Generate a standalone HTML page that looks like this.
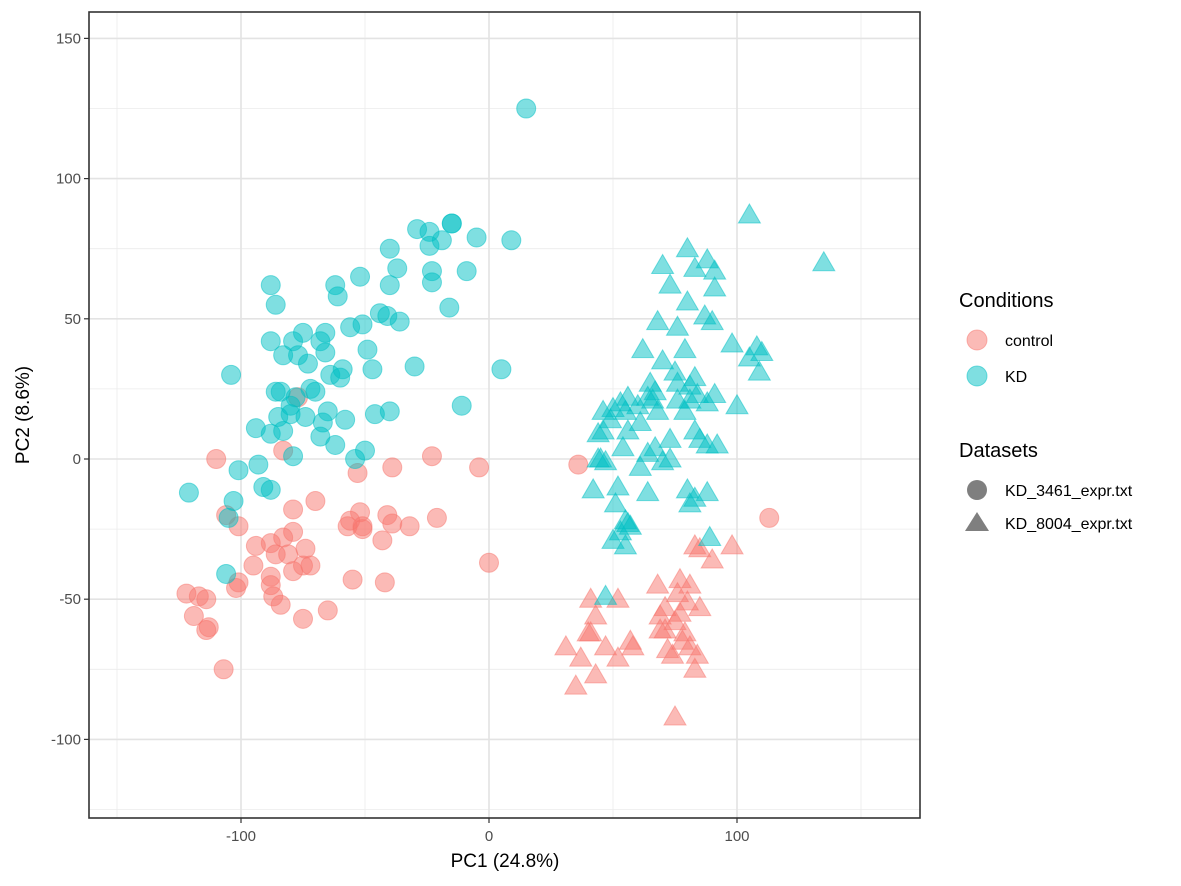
<!DOCTYPE html>
<html><head><meta charset="utf-8">
<style>
body{margin:0;background:#fff;}
svg{display:block;font-family:"Liberation Sans",Arial,sans-serif;}
</style></head>
<body>
<svg id="chart" width="1181" height="886" viewBox="0 0 1181 886" xmlns="http://www.w3.org/2000/svg">
<rect width="1181" height="886" fill="#fff"/>
<g id="grid"></g>
<g id="points"></g>
<rect x="89" y="12" width="831" height="806" fill="none" stroke="#333" stroke-width="1.6"/>
<g id="axes"></g>
<text x="505" y="867" font-size="19" text-anchor="middle" fill="#000">PC1 (24.8%)</text>
<text transform="translate(29,415) rotate(-90)" font-size="19" text-anchor="middle" fill="#000">PC2 (8.6%)</text>
<g>
<text x="959" y="307" font-size="20" fill="#000">Conditions</text>
<circle cx="977" cy="340" r="10" fill="#F8766D" fill-opacity="0.5" stroke="#F8766D" stroke-opacity="0.5"/>
<text x="1005" y="346" font-size="16">control</text>
<circle cx="977" cy="376" r="10" fill="#00BFC4" fill-opacity="0.5" stroke="#00BFC4" stroke-opacity="0.5"/>
<text x="1005" y="382" font-size="16">KD</text>
<text x="959" y="457" font-size="20" fill="#000">Datasets</text>
<circle cx="977" cy="490" r="10" fill="#7f7f7f"/>
<text x="1005" y="496" font-size="16">KD_3461_expr.txt</text>
<polygon points="977,512 989,531 965,531" fill="#7f7f7f"/>
<text x="1005" y="529" font-size="16">KD_8004_expr.txt</text>
</g>
</svg>
<script>
const xTicks=[-100,0,100];
const xMinor=[-150,-50,50,150];
const yTicks=[-100,-50,0,50,100,150];
const yMinor=[-125,-75,-25,25,75,125];
const kdCircX=[15,9,-5,-15,-15,-29,-24,-19,-24,-9,-23,-23,-40,-37,-40,-52,-62,-61,-88,-86,-16,-44,-41,-36,-51,-56,-75,-66,-79,-68,-88,-66,-83,-49,-30,5,-77,-73,-59,-64,-60,-47,-104,-72,-84,-86,-70,-78,-80,-80,-85,-65,-74,-58,-46,-40,-11,-67,-94,-88,-83,-68,-62,-50,-79,-54,-93,-101,-121,-91,-88,-103,-105,-106];
const kdCircY=[125,78,79,84,84,82,81,78,76,67,67,63,75,68,62,65,62,58,62,55,54,52,51,49,48,47,45,45,42,42,42,38,37,39,33,32,37,34,32,30,29,32,30,25,24,24,24,22,19,16,15,17,15,14,16,17,19,13,11,9,10,8,5,3,1,0,-2,-4,-12,-10,-11,-15,-21,-41];
const ctlCircX=[-110,-23,-4,-39,36,-53,-83,-77,-79,-70,-41,-52,-56,-57,-51,-51,-39,-32,-21,-106,-101,-79,-83,-88,-74,-94,-43,-81,-86,-95,-75,-72,-79,-88,-55,-101,-102,-88,-42,0,-87,-84,-122,-117,-114,-65,-75,-119,-113,-114,-107,113];
const ctlCircY=[0,1,-3,-3,-2,-5,3,22,-18,-15,-20,-19,-22,-24,-24,-25,-23,-24,-21,-20,-24,-26,-28,-30,-32,-31,-29,-34,-34,-38,-38,-38,-40,-42,-43,-44,-46,-45,-44,-37,-49,-52,-48,-49,-50,-54,-57,-56,-60,-61,-75,-21];
const kdTriX=[105,135,80,70,88,91,83,73,91,80,87,90,68,76,98,108,110,105,109,62,79,70,75,65,83,76,81,67,64,56,53,50,60,66,76,81,84,91,88,100,46,49,55,68,61,79,46,44,56,83,85,73,54,67,88,92,64,45,47,70,73,44,61,42,52,64,80,83,88,51,81,55,57,53,56,50,55,89,47];
const kdTriY=[87,70,75,69,71,67,68,62,61,56,51,49,49,47,41,40,38,36,31,39,39,35,31,27,29,27,26,24,22,22,20,18,19,21,21,21,23,23,20,19,17,14,17,17,13,17,10,9,10,10,7,7,4,4,5,5,2,0,-1,-1,0,0,-3,-11,-10,-12,-11,-14,-12,-16,-16,-22,-24,-26,-23,-29,-31,-28,-49];
const ctlTriX=[85,83,98,90,68,77,81,41,52,76,85,80,71,77,43,69,75,40,31,41,57,58,47,71,79,69,81,72,74,37,52,78,84,43,35,83,75];
const ctlTriY=[-32,-31,-31,-36,-45,-43,-45,-50,-50,-48,-53,-51,-53,-55,-56,-56,-58,-62,-67,-62,-65,-67,-67,-61,-62,-61,-67,-68,-70,-71,-71,-65,-70,-77,-81,-75,-92];

const NS="http://www.w3.org/2000/svg";
const X0=89,X1=920,Y0=12,Y1=818;
function sx(v){return 489+v*2.48;}
function sy(v){return 459-v*2.804;}
const grid=document.getElementById('grid'),pts=document.getElementById('points'),axes=document.getElementById('axes');
function mk(tag,attrs,parent){const e=document.createElementNS(NS,tag);for(const k in attrs)e.setAttribute(k,attrs[k]);parent.appendChild(e);return e;}
xMinor.forEach(v=>{const l=mk('line',{x1:sx(v),x2:sx(v),y1:Y0,y2:Y1,stroke:'#ebebeb','stroke-width':0.8},grid);

});
yMinor.forEach(v=>{const l=mk('line',{x1:X0,x2:X1,y1:sy(v),y2:sy(v),stroke:'#ebebeb','stroke-width':0.8},grid);

});
xTicks.forEach(v=>{const l=mk('line',{x1:sx(v),x2:sx(v),y1:Y0,y2:Y1,stroke:'#e3e3e3','stroke-width':1.6},grid);


const t=mk('line',{x1:sx(v),x2:sx(v),y1:Y1,y2:Y1+5,stroke:'#333','stroke-width':1.2},axes);


const tx=mk('text',{x:sx(v),y:Y1+23,'font-size':15,'text-anchor':'middle',fill:'#4d4d4d'},axes);tx.textContent=v;

});
yTicks.forEach(v=>{const l=mk('line',{x1:X0,x2:X1,y1:sy(v),y2:sy(v),stroke:'#e3e3e3','stroke-width':1.6},grid);


const t=mk('line',{x1:X0-5,x2:X0,y1:sy(v),y2:sy(v),stroke:'#333','stroke-width':1.2},axes);


const tx=mk('text',{x:X0-8,y:sy(v)+5,'font-size':15,'text-anchor':'end',fill:'#4d4d4d'},axes);tx.textContent=v;

});
function circles(xs,ys,col,name){xs.forEach((v,i)=>{const c=mk('circle',{cx:sx(v),cy:sy(ys[i]),r:9.5,fill:col,'fill-opacity':0.5,stroke:col,'stroke-opacity':0.5},pts);

});}
function tris(xs,ys,col,name){xs.forEach((v,i)=>{const x=sx(v),y=sy(ys[i]);const p=mk('polygon',{points:`${x},${y-11} ${x+11},${y+8} ${x-11},${y+8}`,fill:col,'fill-opacity':0.5,stroke:col,'stroke-opacity':0.5},pts);

});}
circles(ctlCircX,ctlCircY,'#F8766D','point-control-kd3461');
tris(ctlTriX,ctlTriY,'#F8766D','point-control-kd8004');
circles(kdCircX,kdCircY,'#00BFC4','point-kd-kd3461');
tris(kdTriX,kdTriY,'#00BFC4','point-kd-kd8004');
</script>
</body></html>
